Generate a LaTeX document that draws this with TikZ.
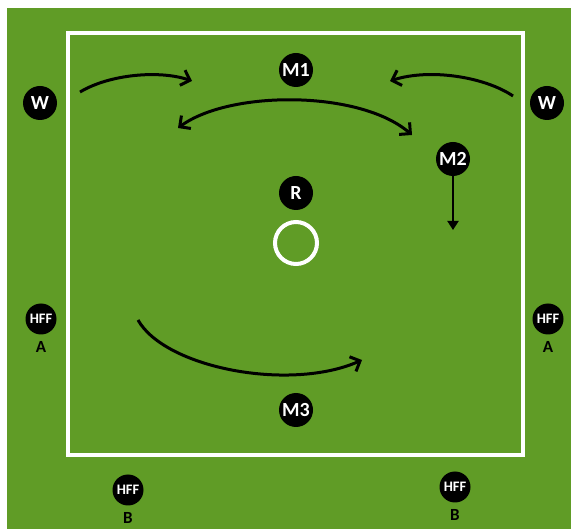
\documentclass[tikz,border=0pt]{standalone}
\usepackage{fontspec}
\setmainfont{Carlito}
\usetikzlibrary{positioning,arrows.meta}
\definecolor{pitch}{RGB}{96,156,38}
\begin{document}
\begin{tikzpicture}
		[x=1pt,y=-1pt,
		player/.style={circle,fill=black,text=white,inner sep=0pt,minimum size=34pt,font=\bfseries\fontsize{20}{20}\selectfont},
		hff/.style={player,minimum size=31pt,font=\bfseries\fontsize{14.5}{14.5}\selectfont},
		tag/.style={inner sep=0pt,font=\bfseries\fontsize{17}{17}\selectfont},
		move/.style={line width=3pt,-{Straight Barb[length=8pt,width=16pt]}}]
		\useasboundingbox (0,0) rectangle (571,529);
		\fill[pitch] (7,8) rectangle (571,529);
		\draw[white,line width=4pt] (68,33) rectangle (523,455);
		\node[name=ring,circle,draw=white,line width=4pt,minimum size=42pt] at (296,243) {};
		% players
		\node[player,name=Wl] at (40,103) {W};
		\node[player,name=Wr] at (547,103) {W};
		\node[player,name=M1] at (296,70) {M1};
		\node[player,name=M2] at (453,159) {M2};
		\node[player,name=R] at (296,193) {R};
		\node[player,name=M3] at (296,410) {M3};
		\node[hff,name=HAl] at (41,319) {HFF};
		\node[hff,name=HAr] at (548,319) {HFF};
		\node[hff,name=HBl] at (128,490) {HFF};
		\node[hff,name=HBr] at (455,487) {HFF};
		\node[tag,below=7pt of HAl] (tAl) {A};
		\node[tag,below=7pt of HAr] (tAr) {A};
		\node[tag,below=7pt of HBl] (tBl) {B};
		\node[tag,below=7pt of HBr] (tBr) {B};
		% runs
		\coordinate (a1) at (80,92);
		\coordinate (a2) at (192,81);
		\coordinate (b1) at (513,96);
		\coordinate (b2) at (390,81);
		\coordinate (c1) at (178,128);
		\coordinate (c2) at (412,135);
		\coordinate (d1) at (138,320);
		\coordinate (d2) at (362,360);
		\coordinate (e2) at (453,230);
		\draw[move] (a1) .. controls (110,74) and (160,70) .. (a2);
		\draw[move] (b1) .. controls (485,77) and (430,68) .. (b2);
		\draw[move,{Straight Barb[length=8pt,width=16pt]}-{Straight Barb[length=8pt,width=16pt]}] (c1) .. controls (230,90) and (360,90) .. (c2);
		\draw[move] (d1) .. controls (165,368) and (290,392) .. (d2);
		\draw[line width=2pt,-{Triangle[length=9pt,width=11pt]}] (M2.south) -- (e2);
	\end{tikzpicture}
\end{document}
